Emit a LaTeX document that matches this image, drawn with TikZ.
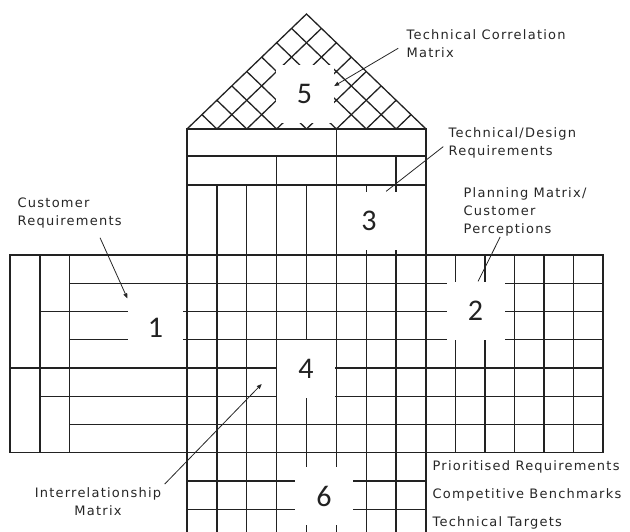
\documentclass[tikz,border=0pt]{standalone}
\usepackage{fontspec}
\usetikzlibrary{calc,arrows.meta}
\newfontfamily\lblfont[LetterSpace=9.5]{DejaVu Sans}
\newfontfamily\numfont{Carlito}
\definecolor{GridInk}{HTML}{222222}
\definecolor{LabelInk}{HTML}{262626}
\tikzset{
  numbox/.style={fill=white,minimum width=58pt,minimum height=58pt,inner sep=0pt,font=\numfont\fontsize{30}{30}\selectfont},
  lbl/.style={font=\lblfont\fontsize{13}{18}\selectfont,text=LabelInk,inner sep=0pt,align=left,anchor=north west},
  pointer/.style={LabelInk,line width=.8pt,-{Triangle[length=5pt,width=4pt]}}
}
\begin{document}
\begin{tikzpicture}[x=1pt,y=-1pt,line width=1.3pt,GridInk]
\useasboundingbox (0,0) rectangle (630,532);
% roof: correlation matrix
\coordinate (RL) at (187,129); \coordinate (RR) at (426,129); \coordinate (RP) at (306.5,14);
\draw (RL) -- (RP) -- (RR);
\foreach \k in {1,...,7}{\draw ($(RL)!\k/8!(RR)$) -- ($(RL)!\k/8!(RP)$); \draw ($(RL)!\k/8!(RR)$) -- ($(RR)!{(8-\k)/8}!(RP)$);}
% technical requirements
\draw (187,129) rectangle (426,185);
\draw (187,156) -- (426,156);
\draw (336.4,129) -- (336.4,156);
\foreach \k in {3,5,7} \draw (187+29.875*\k,156) -- (187+29.875*\k,185);
\foreach \k in {0,...,8} \draw (187+29.875*\k,185) -- (187+29.875*\k,532);
% customer requirements, relationships, planning matrix
\draw (10,255) rectangle (603,452.75);
\foreach \j/\xs in {1/69.5,2/40,3/69.5,4/10,5/40,6/69.5} \draw (\xs,255+28.25*\j) -- (603,255+28.25*\j);
\foreach \x in {40,69.5} \draw (\x,255) -- (\x,452.75);
\foreach \i in {1,...,5} \draw (426+29.5*\i,255) -- (426+29.5*\i,452.75);
% technical targets
\foreach \j in {8,9} \draw (187,255+28.25*\j) -- (426,255+28.25*\j);
% room numbers
\node[numbox] (n5) at (304.5,94) {5};
\node[numbox] (n3) at (369,221) {3};
\node[numbox,minimum width=55pt] (n1) at (155.5,328) {1};
\node[numbox] (n2) at (475.5,311) {2};
\node[numbox] (n4) at (306,369) {4};
\node[numbox] (n6) at (324,496) {6};
% labels
\node[lbl] (tcm) at (406,29) {Technical Correlation\\Matrix};
\node[lbl] (tdr) at (448,127) {Technical/Design\\Requirements};
\node[lbl] (pmc) at (463,187) {Planning Matrix/\\Customer\\Perceptions};
\node[lbl] (cr) at (17,197) {Customer\\Requirements};
\node[lbl,align=center,anchor=north] (im) at (98,487) {Interrelationship\\Matrix};
\foreach \j/\txt in {7/Prioritised Requirements,8/Competitive Benchmarks,9/Technical Targets} \node[lbl,anchor=west] (row\j) at (432,269.125+28.25*\j) {\txt};
% pointers
\draw[pointer,shorten <=9pt] (tcm.west) -- (n5.15);
\draw[LabelInk,line width=.8pt,shorten <=6pt] (tdr.west) -- (n3.60);
\draw[LabelInk,line width=.8pt] ($(pmc.south west)!.3!(pmc.south east)$) -- (n2.85);
\draw[pointer,shorten <=10pt] ($(cr.south west)!.75!(cr.south east)$) -- (n1.north west);
\coordinate (imtip) at (261.7,384);
\draw[pointer,shorten <=4pt] (im.north east) -- (imtip);
\end{tikzpicture}
\end{document}
